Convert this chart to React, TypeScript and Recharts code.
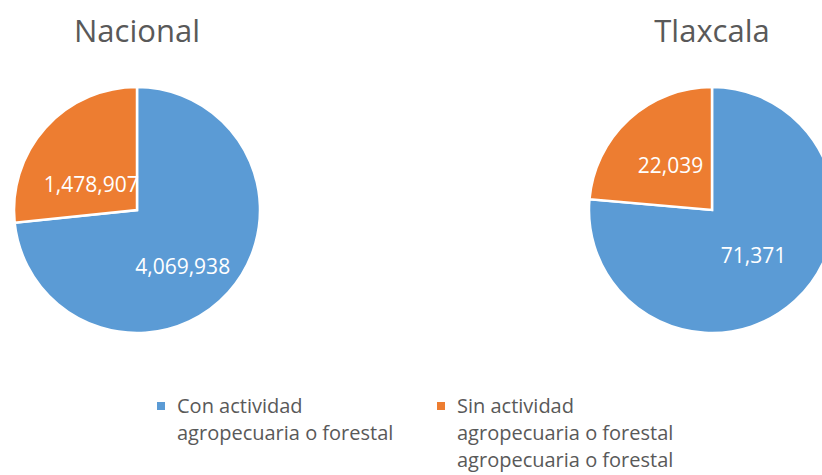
import React from 'react';
import { PieChart, Pie, Cell, Legend, Customized } from 'recharts';

const categories = ['Con actividad agropecuaria o forestal', 'Sin actividad agropecuaria o forestal'];
const legendLines = [
  ['Con actividad', 'agropecuaria o forestal'],
  ['Sin actividad', 'agropecuaria o forestal', 'agropecuaria o forestal'],
];
const regions = ['Nacional', 'Tlaxcala'];
const nacionalValues = [4069938, 1478907];
const tlaxcalaValues = [71371, 22039];
const colors = ['#5B9BD5', '#ED7D31'];

const nacionalData = categories.map((name, i) => ({ name, value: nacionalValues[i] }));
const tlaxcalaData = categories.map((name, i) => ({ name, value: tlaxcalaValues[i] }));

const FONT = '"Open Sans", "Noto Sans", sans-serif';
const W = 822;
const H = 475;
const R = 123;
const centers = [
  { cx: 137, cy: 210, shiftY: 15 },
  { cx: 712, cy: 210, shiftY: 0 },
];

const makeLabel = (shiftY: number) => (props: any) => {
  const { cx, cy, midAngle, outerRadius, value } = props;
  const RAD = Math.PI / 180;
  const r = outerRadius * 0.5;
  const x = cx + r * Math.cos(-midAngle * RAD);
  const y = cy + r * Math.sin(-midAngle * RAD) + shiftY;
  return (
    <text x={x} y={y} fill="#ffffff" textAnchor="middle" dominantBaseline="central" fontSize={21} fontFamily={FONT}>
      {Number(value).toLocaleString('en-US')}
    </text>
  );
};

const Titles = () => (
  <g>
    {regions.map((r, i) => (
      <text key={r} x={centers[i].cx} y={42} textAnchor="middle" fontSize={31} fontFamily={FONT} fill="#595959">
        {r}
      </text>
    ))}
  </g>
);

const LegendContent = () => (
  <div style={{ position: 'relative', width: W, height: 83, fontFamily: FONT, fontSize: 20, color: '#595959', lineHeight: '27px' }}>
    {categories.map((c, i) => (
      <div key={c} style={{ position: 'absolute', left: 157 + i * 280, top: 0, display: 'flex', alignItems: 'flex-start' }}>
        <span style={{ display: 'inline-block', width: 8, height: 8, background: colors[i], marginTop: 10, marginRight: 12 }} />
        <div style={{ whiteSpace: 'nowrap' }}>
          {legendLines[i].map((l, j) => (
            <div key={j}>{l}</div>
          ))}
        </div>
      </div>
    ))}
  </div>
);

export default function App() {
  const datasets = [nacionalData, tlaxcalaData];
  return (
    <div style={{ position: 'absolute', left: 0, top: 0, width: W, height: H, background: '#ffffff', overflow: 'hidden' }}>
      <PieChart width={W} height={H} margin={{ top: 0, right: 0, bottom: 0, left: 0 }}>
        {datasets.map((d, k) => (
          <Pie
            key={regions[k]}
            data={d}
            dataKey="value"
            nameKey="name"
            cx={centers[k].cx}
            cy={centers[k].cy}
            outerRadius={R}
            innerRadius={0}
            startAngle={90}
            endAngle={-270}
            stroke="#ffffff"
            strokeWidth={2.5}
            label={makeLabel(centers[k].shiftY)}
            labelLine={false}
            isAnimationActive={false}
          >
            {d.map((e, i) => (
              <Cell key={e.name} fill={colors[i]} />
            ))}
          </Pie>
        ))}
        <Customized component={Titles} />
        <Legend
          content={LegendContent}
          wrapperStyle={{ position: 'absolute', top: 392, left: 0, width: W, height: 83 }}
        />
      </PieChart>
    </div>
  );
}
